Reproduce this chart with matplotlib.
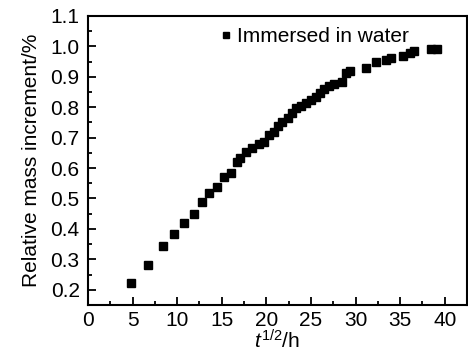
import numpy as np
import matplotlib
matplotlib.use("Agg")
import matplotlib.pyplot as plt
from matplotlib.ticker import MultipleLocator

plt.rcParams['font.family'] = ['Liberation Sans', 'DejaVu Sans']
plt.rcParams['mathtext.fontset'] = 'custom'
plt.rcParams['mathtext.rm'] = 'Liberation Sans'
plt.rcParams['mathtext.it'] = 'Liberation Sans:italic'

# datos
t_raiz = [4.8, 6.7, 8.4, 9.6, 10.75, 11.87, 12.8, 13.6, 14.46, 15.2, 16.0,
          16.7, 17.05, 17.75, 18.4, 19.2, 19.75, 20.3, 20.8, 21.25, 21.7,
          22.4, 22.9, 23.3, 23.9, 24.4, 25.0, 25.6, 26.0, 26.5, 27.0, 27.6,
          28.5, 28.95, 29.4, 31.2, 32.3, 33.4, 34.0, 35.3, 36.1, 36.5,
          38.5, 39.1]
incremento = [0.222, 0.282, 0.344, 0.384, 0.421, 0.45, 0.489, 0.518, 0.537,
              0.57, 0.585, 0.619, 0.632, 0.653, 0.666, 0.678, 0.687, 0.709,
              0.72, 0.738, 0.752, 0.763, 0.78, 0.796, 0.805, 0.813, 0.824,
              0.835, 0.846, 0.859, 0.87, 0.876, 0.884, 0.913, 0.919, 0.93,
              0.95, 0.955, 0.961, 0.968, 0.977, 0.983, 0.991, 0.991]

fig = plt.figure(figsize=(4.68, 3.53), dpi=100)
ax = fig.add_axes([0.188, 0.136, 0.81, 0.819])
ax.plot(t_raiz, incremento, 's', color='black', markersize=5.2,
        label='Immersed in water')

ax.set_xlim(0, 42.5)
ax.set_ylim(0.15, 1.1)
ax.xaxis.set_major_locator(MultipleLocator(5))
ax.xaxis.set_minor_locator(MultipleLocator(2.5))
ax.yaxis.set_major_locator(MultipleLocator(0.1))
ax.yaxis.set_minor_locator(MultipleLocator(0.05))
ax.yaxis.set_major_formatter(plt.FuncFormatter(lambda v, p: '%.1f' % v))
ax.tick_params(which='both', direction='in', top=False, right=False,
               labelsize=15, width=1.3, pad=6)
ax.tick_params(axis='x', which='both', pad=4)
ax.tick_params(which='major', length=5.5)
ax.tick_params(which='minor', length=3)
for s in ax.spines.values():
    s.set_linewidth(1.5)

ax.set_xlabel(r'$\mathit{t}^{1/2}$/h', fontsize=15, labelpad=-0.5)
ax.set_ylabel('Relative mass increment/%', fontsize=15, labelpad=7)

ax.legend(loc='upper left', bbox_to_anchor=(0.295, 1.025), frameon=False,
          fontsize=15, handlelength=0.7, handletextpad=0.2, markerscale=0.95)

fig.savefig('out.png', dpi=100)
